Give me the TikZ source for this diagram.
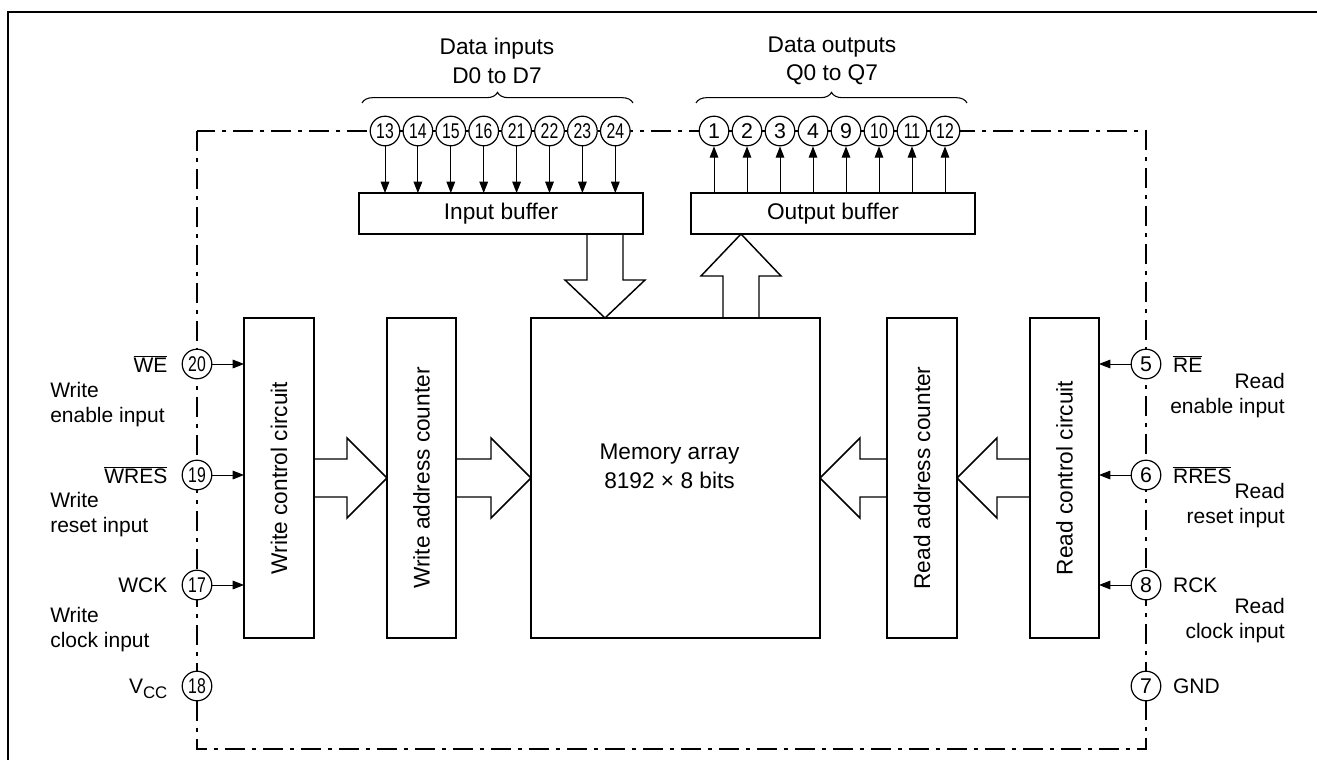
\documentclass[tikz,border=0pt]{standalone}
\usepackage{fontspec}
\setmainfont{Liberation Sans}
\usepackage{graphicx}
\usetikzlibrary{arrows.meta,calc,decorations.pathreplacing}
\newcommand{\nn}[1]{\ifnum#1>9 \scalebox{0.74}[1]{#1}\else #1\fi}
\newcommand{\ovl}[1]{$\overline{\mbox{#1}}$}
\begin{document}
\begin{tikzpicture}[x=0.75pt,y=-0.75pt,
  box/.style={draw,line width=1.1pt,inner sep=0pt,outer sep=0pt},
  pin/.style={circle,draw,fill=white,line width=0.9pt,minimum size=22.2pt,inner sep=0pt,font=\fontsize{16}{16}\selectfont},
  sig/.style={line width=0.75pt,-{Triangle[length=8.5pt,width=6.5pt]}},
  fat/.style={line width=1.1pt,line join=miter},
  frame/.style={line width=0.9pt,dash pattern=on 15pt off 5pt on 3.5pt off 5pt},
  main/.style={font=\fontsize{17}{21.5}\selectfont,align=center},
  side/.style={font=\fontsize{15.75}{18.75}\selectfont,inner sep=0pt},
]
\useasboundingbox (0,0) rectangle (1317,760);
% outer frame
\draw[line width=2.2pt] (8,770) -- (8,12) -- (1330,12);
% package outline
\draw[frame] (197,131) rectangle (1146,749);

% blocks
\node[box,minimum width=213pt,minimum height=30.75pt] (ib) at (501,213.5) {};
\node[box,minimum width=213pt,minimum height=30.75pt] (ob) at (833,213.5) {};
\node[box,minimum width=52.5pt,minimum height=240pt] (wc) at (279,478) {};
\node[box,minimum width=51.75pt,minimum height=240pt] (wa) at (421.5,478) {};
\node[box,minimum width=216.75pt,minimum height=240pt] (mem) at (675.5,478) {};
\node[box,minimum width=52.5pt,minimum height=240pt] (ra) at (922,478) {};
\node[box,minimum width=51.75pt,minimum height=240pt] (rc) at (1064.5,478) {};

\node[main] (tib) at (ib.center) {Input buffer};
\node[main] (tob) at (ob.center) {Output buffer};
\node[main,rotate=90] (twc) at (wc.center) {Write control circuit};
\node[main,rotate=90] (twa) at (wa.center) {Write address counter};
\node[main,rotate=90] (tra) at (ra.center) {Read address counter};
\node[main,rotate=90] (trc) at (rc.center) {Read control circuit};
\node[main] (tmem) at ($(mem.center)+(-6,-12)$) {Memory array\\8192 × 8 bits};

% pins top
\foreach \n [count=\k from 0] in {13,14,15,16,21,22,23,24}
  \node[pin] (i\n) at ({385+32.9*\k},131) {\nn{\n}};
\foreach \n [count=\k from 0] in {1,2,3,4,9,10,11,12}
  \node[pin] (o\n) at ({714+33*\k},131) {\nn{\n}};
\foreach \a/\b in {13/14,14/15,15/16,16/21,21/22,22/23,23/24}
  \draw[line width=0.9pt] (i\a.east) -- (i\b.west);
\foreach \a/\b in {1/2,2/3,3/4,4/9,9/10,10/11,11/12}
  \draw[line width=0.9pt] (o\a.east) -- (o\b.west);

% pins sides
\node[pin] (p20) at (197,364) {\nn{20}};
\node[pin] (p19) at (197,475) {\nn{19}};
\node[pin] (p17) at (197,585) {\nn{17}};
\node[pin] (p18) at (197,686) {\nn{18}};
\node[pin] (p5) at (1146,364) {5};
\node[pin] (p6) at (1146,475) {6};
\node[pin] (p8) at (1146,585) {8};
\node[pin] (p7) at (1146,686) {7};

% data signal arrows
\foreach \n in {13,14,15,16,21,22,23,24}
  \draw[sig] (i\n.south) -- (i\n.south |- ib.north);
\foreach \n in {1,2,3,4,9,10,11,12}
  \draw[sig] (o\n.south |- ob.north) -- (o\n.south);

% control arrows
\foreach \n in {20,19,17}
  \draw[sig] (p\n.east) -- (p\n.east -| wc.west);
\foreach \n in {5,6,8}
  \draw[sig] (p\n.west) -- (p\n.west -| rc.east);

% fat arrows
\newcommand{\fatR}[2]{\draw[fat] ($(#1)+(0,-19)$) -- ($(#2)+(-40,-19)$) -- ($(#2)+(-40,-40)$) -- (#2) -- ($(#2)+(-40,40)$) -- ($(#2)+(-40,19)$) -- ($(#1)+(0,19)$);}
\newcommand{\fatL}[2]{\draw[fat] ($(#1)+(0,-19)$) -- ($(#2)+(40,-19)$) -- ($(#2)+(40,-40)$) -- (#2) -- ($(#2)+(40,40)$) -- ($(#2)+(40,19)$) -- ($(#1)+(0,19)$);}
\fatR{wc.east}{wa.west}
\fatR{wa.east}{mem.west}
\fatL{rc.west}{ra.east}
\fatL{ra.west}{mem.east}
\coordinate (dtop) at ($(ib.south)+(104,0)$);
\coordinate (dtip) at (dtop |- mem.north);
\draw[fat] ($(dtop)+(-18,0)$) -- ($(dtip)+(-18,-38)$) -- ($(dtip)+(-40,-38)$) -- (dtip) -- ($(dtip)+(40,-38)$) -- ($(dtip)+(18,-38)$) -- ($(dtop)+(18,0)$);
\coordinate (utip) at ($(ob.south)+(-92,0)$);
\coordinate (ubot) at (utip |- mem.north);
\draw[fat] ($(ubot)+(-18,0)$) -- ($(utip)+(-18,42)$) -- ($(utip)+(-40,42)$) -- (utip) -- ($(utip)+(40,42)$) -- ($(utip)+(18,42)$) -- ($(ubot)+(18,0)$);

% braces and top labels
\draw[line width=0.8pt,decorate,decoration={brace,amplitude=8pt}] (362,103) -- (633,103);
\draw[line width=0.8pt,decorate,decoration={brace,amplitude=8pt}] (696,103) -- (967,103);
\node[main] (tdi) at (497,61) {Data inputs\\D0 to D7};
\node[main] (tdo) at (832,61) {Data outputs\\Q0 to Q7};

% left labels
\node[side,anchor=east] (lWE) at ([xshift=-10.5pt]p20.west) {\ovl{WE}};
\node[side,anchor=east] (lWRES) at ([xshift=-10.5pt]p19.west) {\ovl{WRES}};
\node[side,anchor=east] (lWCK) at ([xshift=-10.5pt]p17.west) {WCK};
\node[side,anchor=east] (lVCC) at ([xshift=-10.5pt,yshift=-2pt]p18.west) {V\raisebox{-0.45ex}{\scalebox{0.8}{CC}}};
\node[side,anchor=west,align=left] (dWE) at (50,404.5) {Write\\enable input};
\node[side,anchor=west,align=left] (dWRES) at (50,514.5) {Write\\reset input};
\node[side,anchor=west,align=left] (dWCK) at (50,629.5) {Write\\clock input};

% right labels
\node[side,anchor=west] (lRE) at ([xshift=8.6pt]p5.east) {\ovl{RE}};
\node[side,anchor=west] (lRRES) at ([xshift=8.6pt]p6.east) {\ovl{RRES}};
\node[side,anchor=west] (lRCK) at ([xshift=8.6pt]p8.east) {RCK};
\node[side,anchor=west] (lGND) at ([xshift=8.6pt]p7.east) {GND};
\node[side,anchor=east,align=right] (dRE) at (1285,395.5) {Read\\enable input};
\node[side,anchor=east,align=right] (dRRES) at (1285,505.5) {Read\\reset input};
\node[side,anchor=east,align=right] (dRCK) at (1285,620.5) {Read\\clock input};
\end{tikzpicture}
\end{document}
